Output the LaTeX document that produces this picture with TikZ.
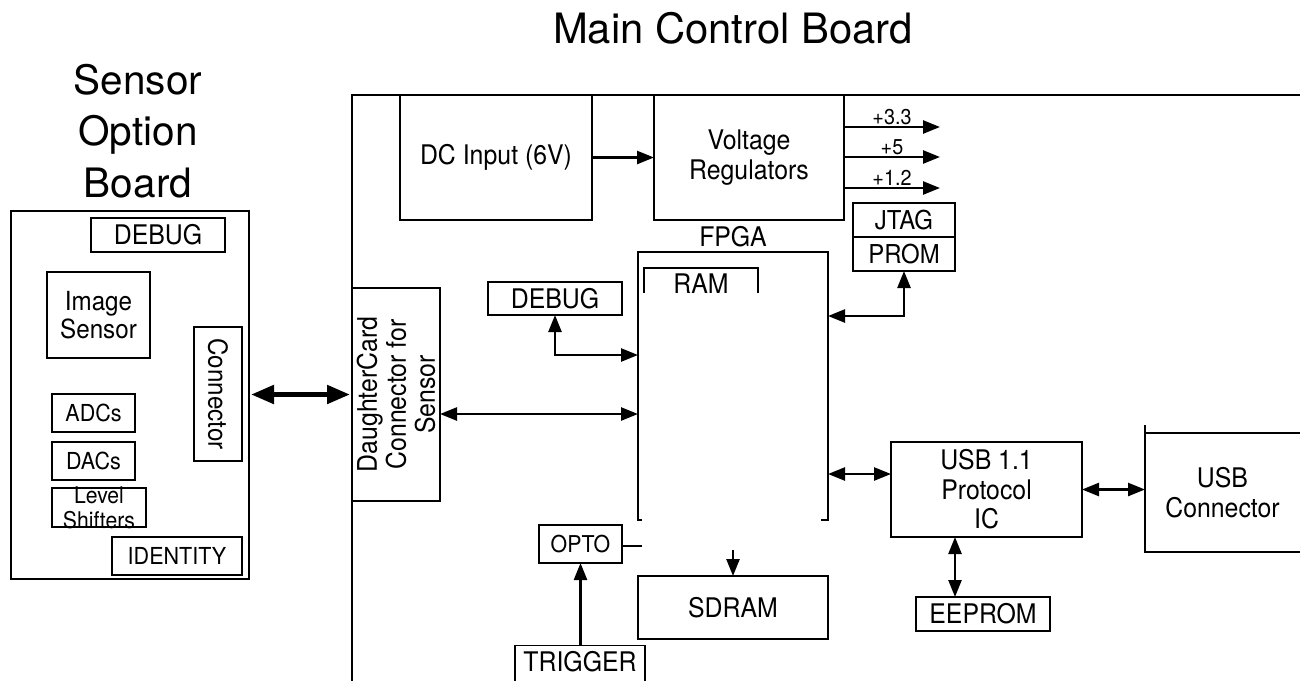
\documentclass[tikz,border=0pt]{standalone}
\usepackage{fontspec}
\setmainfont{TeX Gyre Heros}
\newfontfamily\cond{TeX Gyre Heros}[FakeStretch=0.92]
\usetikzlibrary{arrows.meta}
\newcommand{\fs}[2]{\cond\fontsize{#1}{#2}\selectfont}

\begin{document}
\begin{tikzpicture}[x=1pt, y=-1pt,
    blk/.style={draw, line width=1.4pt, inner sep=0pt, outer sep=0pt, align=center, font=\fs{27}{30}},
    lbl/.style={inner sep=0pt, outer sep=0pt, align=center},
    edge/.style={line width=1.4pt},
    arr/.style={line width=2.5pt, -{Triangle[length=17pt,width=13pt]}},
    darr/.style={line width=2.5pt, {Triangle[length=17pt,width=13pt]}-{Triangle[length=17pt,width=13pt]}},
    bigarr/.style={line width=5pt, shorten <=2pt, shorten >=2pt,
      {Triangle[length=23pt,width=18pt]}-{Triangle[length=23pt,width=18pt]}}]
      \useasboundingbox (0,0) rectangle (1300,681);

      % Titles
      \node[lbl, font=\fontsize{41.8}{48}\selectfont, anchor=base] (mcbtitle) at (733,43) {Main Control Board};
      \node[lbl, font=\fontsize{40.5}{51.5}\selectfont] (sobtitle) at (138,130.75) {Sensor\\Option\\Board};

      % Sensor option board
      \node[blk, minimum width=238pt, minimum height=368pt] (sob) at (130,395) {};
      \node[blk, minimum width=134pt, minimum height=34pt] (sdbg) at (158,235) {DEBUG};
      \node[blk, font=\fs{26.3}{27.5}, minimum width=103pt, minimum height=86pt] (imgs) at (98.5,315) {Image\\Sensor};
      \node[blk, font=\fs{26.3}{30}, rotate=-90, minimum width=134pt, minimum height=48pt] (conn) at (218,394) {Connector};
      \node[blk, font=\fs{23.4}{26}, minimum width=83pt, minimum height=38pt] (adc) at (93.5,413) {ADCs};
      \node[blk, font=\fs{23.4}{26}, minimum width=83pt, minimum height=38pt] (dac) at (93.5,461) {DACs};
      \node[blk, minimum width=94pt, minimum height=39pt] (lvl) at (99,507.5) {};
      \node[lbl, font=\fs{23}{25}] (lvltext) at (99,508) {Level\\Shifters};
      \node[blk, font=\fs{23.4}{26}, minimum width=130pt, minimum height=38pt] (ident) at (177,556) {IDENTITY};

      % Main control board outline
      \draw[edge] (1300,95) -- (352,95) -- (352,681);

      % Power
      \node[blk, minimum width=192pt, minimum height=125pt] (dcin) at (496,157.5) {DC Input (6V)};
      \node[blk, minimum width=190pt, minimum height=125pt] (vreg) at (749,157.5) {Voltage\\Regulators};
      \draw[arr] (dcin) -- (vreg);
      \coordinate (out33) at (940,127);
      \coordinate (out5) at (940,157);
      \coordinate (out12) at (940,188);
      \draw[arr] (vreg.east |- out33) -- node[above=2.5pt, lbl, font=\fs{21.5}{24}] (v33) {+3.3} (out33);
      \draw[arr] (vreg.east |- out5) -- node[above=2.5pt, lbl, font=\fs{21.5}{24}] (v5) {+5} (out5);
      \draw[arr] (vreg.east |- out12) -- node[above=2.5pt, lbl, font=\fs{21.5}{24}] (v12) {+1.2} (out12);

      % JTAG / PROM
      \node[blk, font=\fs{26}{28}, minimum width=102pt, minimum height=34pt] (jtag) at (904,220) {JTAG};
      \node[blk, font=\fs{26}{28}, minimum width=102pt, minimum height=34pt] (prom) at (904,254) {PROM};

      % FPGA (open at the bottom)
      \node[lbl, font=\fs{27}{30}, anchor=base] (fpgalbl) at (733,246) {FPGA};
      \node[lbl, minimum width=190pt, minimum height=268pt] (fpga) at (733,386) {};
      \draw[edge] ([xshift=4pt]fpga.south west) -- (fpga.south west) -- (fpga.north west)
        -- (fpga.north east) -- (fpga.south east) -- ([xshift=-7pt]fpga.south east);
      \node[lbl, minimum width=114pt, minimum height=25pt] (ram) at (701,280.5) {};
      \draw[edge] (ram.south west) -- (ram.north west) -- (ram.north east) -- (ram.south east);
      \node[lbl, font=\fs{27}{30}, anchor=base] (ramlbl) at (701,293) {RAM};

      % Debug and daughter card
      \node[blk, minimum width=134pt, minimum height=33pt] (dbg) at (555,298.5) {DEBUG};
      \node[blk, minimum width=88pt, minimum height=213pt] (dcc) at (396,394.5) {};
      \node[lbl, rotate=90, font=\fs{27}{29}] (dcclbl) at (dcc.center) {DaughterCard\\Connector for\\Sensor};
      \draw[darr] (dbg.south) |- (fpga.west |- 0,355);
      \draw[darr] (dcc.east |- 0,414) -- (fpga.west |- 0,414);
      \draw[bigarr] (sob.east |- dcc.west) -- (dcc.west);
      \draw[darr] (fpga.east |- 0,316) -| (prom.south);

      % USB
      \node[blk, font=\fs{27}{29.5}, minimum width=191pt, minimum height=95pt] (usb) at (986.5,489.5) {USB 1.1\\Protocol\\IC};
      \node[lbl, font=\fs{27}{30}, minimum width=155pt, minimum height=119pt] (usbc) at (1222.5,492.5) {USB\\Connector};
      \draw[edge] ([yshift=8pt]usbc.north west) -- (usbc.south west) -- (usbc.south east);
      \draw[edge] (usbc.north west) -- (usbc.north east);
      \node[blk, minimum width=134pt, minimum height=34pt] (eep) at (983,614) {EEPROM};
      \draw[darr] (fpga.east |- 0,474) -- (usb.west |- 0,474);
      \draw[darr] (usb.east) -- (usbc.west |- usb.east);
      \draw[darr] (usb.south -| 955,0) -- (eep.north -| 955,0);

      % Trigger, opto and SDRAM
      \node[blk, font=\fs{23.2}{26}, minimum width=83pt, minimum height=38pt] (opto) at (580.5,544) {OPTO};
      \coordinate (optoend) at (642,546);
      \draw[line width=2.5pt] (opto.east |- optoend) -- (optoend);
      \node[blk, minimum width=190pt, minimum height=63pt] (sdram) at (733,607.5) {SDRAM};
      \coordinate (sdin) at (733,550);
      \draw[arr] (sdin) -- (sdram.north);
      \node[lbl, font=\fs{27}{30}, minimum width=130pt, minimum height=33pt] (trig) at (580,662) {TRIGGER};
      \draw[edge] ([yshift=-2pt]trig.south west) -- (trig.north west) -- (trig.north east) -- ([yshift=-2pt]trig.south east);
      \draw[arr] (trig.north -| opto.south) -- (opto.south);
    \end{tikzpicture}
\end{document}
